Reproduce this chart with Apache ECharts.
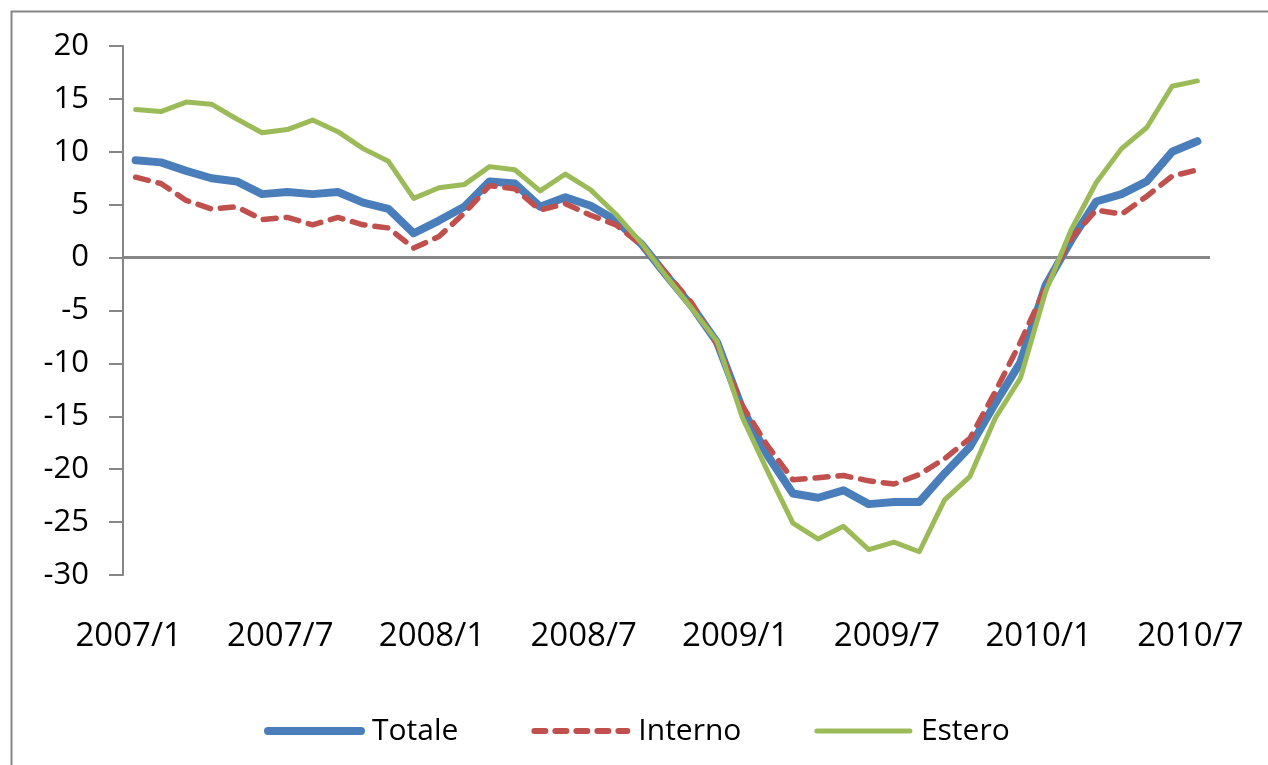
<!DOCTYPE html>
<html>
<head>
<meta charset="utf-8">
<script src="https://cdn.jsdelivr.net/npm/echarts@6/dist/echarts.min.js"></script>
<style>
  html, body { margin: 0; padding: 0; background: #fff; }
  #chart { width: 1268px; height: 765px; }
</style>
</head>
<body>
<div id="chart"></div>
<script>
// categorie mensili 2007/1 - 2010/7
var mesi = [
  '2007/1','2007/2','2007/3','2007/4','2007/5','2007/6','2007/7','2007/8','2007/9','2007/10','2007/11','2007/12',
  '2008/1','2008/2','2008/3','2008/4','2008/5','2008/6','2008/7','2008/8','2008/9','2008/10','2008/11','2008/12',
  '2009/1','2009/2','2009/3','2009/4','2009/5','2009/6','2009/7','2009/8','2009/9','2009/10','2009/11','2009/12',
  '2010/1','2010/2','2010/3','2010/4','2010/5','2010/6','2010/7'
];
var totale = [
  9.2, 9.0, 8.2, 7.5, 7.2, 6.0, 6.2, 6.0, 6.2, 5.2, 4.6, 2.3,
  3.5, 4.8, 7.2, 7.0, 4.8, 5.7, 4.9, 3.5, 1.3, -1.7, -4.6, -8.0,
  -14.3, -18.7, -22.3, -22.7, -22.0, -23.3, -23.1, -23.1, -20.4, -17.9, -13.8, -9.9,
  -2.6, 1.6, 5.3, 6.0, 7.2, 10.0, 11.0
];
var interno = [
  7.6, 7.0, 5.4, 4.6, 4.8, 3.6, 3.8, 3.1, 3.8, 3.1, 2.8, 0.9,
  2.0, 4.2, 6.8, 6.5, 4.5, 5.1, 4.0, 3.1, 1.2, -1.5, -4.3, -8.2,
  -14.0, -17.8, -21.0, -20.8, -20.6, -21.1, -21.4, -20.5, -19.0, -17.1, -12.7, -8.0,
  -2.8, 1.8, 4.5, 4.1, 5.8, 7.7, 8.3
];
var estero = [
  14.0, 13.8, 14.7, 14.5, 13.1, 11.8, 12.1, 13.0, 11.9, 10.3, 9.1, 5.6,
  6.6, 6.9, 8.6, 8.3, 6.3, 7.9, 6.4, 4.1, 1.4, -1.8, -4.8, -7.9,
  -15.1, -20.2, -25.1, -26.6, -25.4, -27.6, -26.9, -27.8, -22.9, -20.7, -15.2, -11.4,
  -3.2, 2.6, 7.1, 10.3, 12.3, 16.2, 16.7
];

var font = '"Open Sans", "Liberation Sans", sans-serif';
var grigio = '#868686';
var blu = '#4A7EBB', rosso = '#C0504D', verde = '#9BBB59';

var myChart = echarts.init(document.getElementById('chart'));
var option = {
  animation: false,
  backgroundColor: '#fff',
  textStyle: { fontFamily: font },
  graphic: [{
    type: 'rect',
    left: 9, top: 9,
    shape: { width: 1300, height: 800 },
    style: { fill: 'none', stroke: grigio, lineWidth: 2 },
    z: -1
  }],
  grid: { left: 123, right: 58, top: 46, bottom: 190 },
  legend: {
    bottom: 14,
    left: 259,
    itemWidth: 93,
    itemHeight: 14,
    itemGap: 73,
    itemStyle: { opacity: 0 },
    textStyle: { fontSize: 30, color: '#000', fontFamily: font, padding: [0, 0, 0, 6] },
    data: [
      { name: 'Totale', lineStyle: { width: 8, color: blu, cap: 'round' } },
      { name: 'Interno', lineStyle: { width: 6, color: rosso, type: [11, 10], cap: 'round' } },
      { name: 'Estero', lineStyle: { width: 5, color: verde, cap: 'round' } }
    ]
  },
  xAxis: {
    type: 'category',
    data: mesi,
    boundaryGap: true,
    axisLine: { show: false, onZero: false },
    axisTick: { show: false },
    axisLabel: {
      interval: 5,
      margin: 45,
      color: '#000',
      fontSize: 33,
      fontFamily: font,
      padding: [0, 14, 0, 0]
    }
  },
  yAxis: {
    type: 'value',
    min: -30, max: 20, interval: 5,
    splitLine: { show: false },
    axisLine: { show: true, lineStyle: { color: grigio, width: 2 } },
    axisTick: { show: true, length: 14, lineStyle: { color: grigio, width: 2 } },
    axisLabel: { margin: 34, color: '#000', fontSize: 31, fontFamily: font }
  },
  series: [
    {
      name: 'Totale', type: 'line', data: totale,
      symbol: 'none', color: blu, z: 3,
      lineStyle: { width: 8, color: blu, cap: 'round', join: 'round' },
      markLine: {
        silent: true, symbol: 'none', label: { show: false },
        lineStyle: { color: grigio, width: 3, type: 'solid' },
        data: [{ yAxis: 0 }],
        z: 1
      }
    },
    {
      name: 'Interno', type: 'line', data: interno,
      symbol: 'none', color: rosso, z: 4,
      lineStyle: { width: 5.5, color: rosso, type: [13, 10], cap: 'round', join: 'round' }
    },
    {
      name: 'Estero', type: 'line', data: estero,
      symbol: 'none', color: verde, z: 5,
      lineStyle: { width: 5, color: verde, cap: 'round', join: 'round' }
    }
  ]
};
myChart.setOption(option);
window.addEventListener('resize', function () {
  myChart.resize();
});
</script>
</body>
</html>
